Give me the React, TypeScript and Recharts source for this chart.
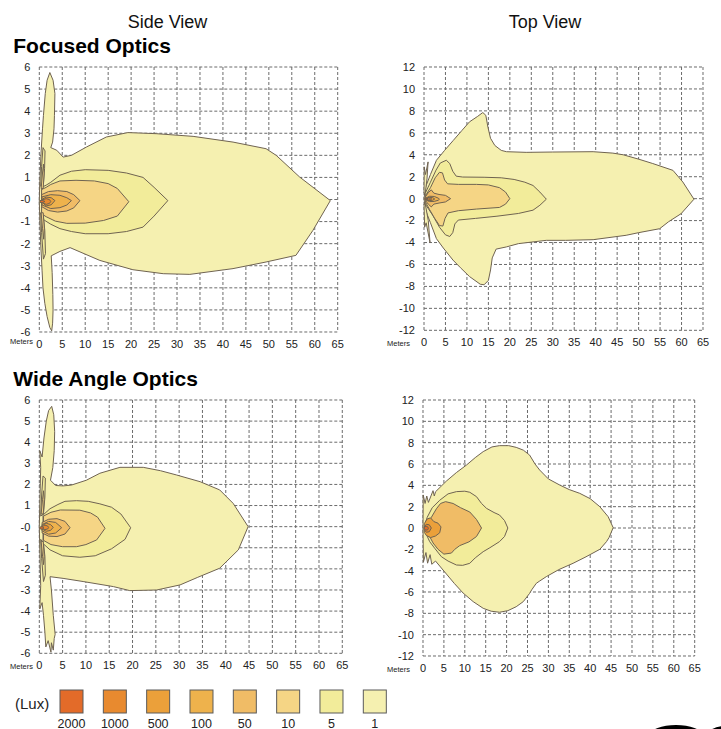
import { ScatterChart, Scatter, XAxis, YAxis, CartesianGrid } from 'recharts';

type Pt = [number, number];
type Layer = { lux: string; pts: Pt[] };

const FONT = '"Liberation Sans", Arial, sans-serif';

const meterTicks = [0, 5, 10, 15, 20, 25, 30, 35, 40, 45, 50, 55, 60, 65];
const sideTicks = [6, 5, 4, 3, 2, 1, 0, -1, -2, -3, -4, -5, -6];
const topTicks = [12, 10, 8, 6, 4, 2, 0, -2, -4, -6, -8, -10, -12];

const luxLevels = ['2000', '1000', '500', '100', '50', '10', '5', '1'];
const luxColors: Record<string, string> = {
  '2000': '#E36B29',
  '1000': '#E88A2F',
  '500': '#EBA03A',
  '100': '#EEB24C',
  '50': '#F0BC66',
  '10': '#F5D585',
  '5': '#F2EC9A',
  '1': '#F5F0B0',
};

// ---- Focused optics, side view (meters x, meters height)
const focusedSide1: Pt[] = [
  [2.3, 5.75], [3.0, 5.4], [3.4, 4.8], [3.3, 3.8], [3.2, 3.2], [2.9, 2.6], [2.5, 2.35],
  [3.8, 2.23], [5.2, 1.92], [7.0, 2.0], [10.3, 2.38], [14.6, 2.83], [19.3, 3.03], [25.5, 2.98],
  [33.5, 2.86], [42.2, 2.6], [49.4, 2.3], [51.6, 2.0], [56.7, 1.02], [63.4, -0.05], [59.6, -1.4],
  [55.9, -2.53], [49.4, -2.83], [42.2, -3.13], [32.8, -3.39], [27, -3.36], [20.4, -3.18],
  [13.2, -2.76], [6.7, -2.18], [4.5, -2.35], [2.6, -2.55], [2.8, -3.3], [2.95, -4.3], [3.0, -5.0],
  [2.9, -5.6], [2.7, -5.95], [2.3, -5.8], [1.7, -5.3], [1.2, -4.7], [0.8, -4.0], [0.6, -3.2],
  [0.35, -2.2], [0.1, -0.8], [0, -0.1], [0.1, 0.8], [0.4, 2.2], [0.7, 3.2], [0.9, 3.8],
  [1.3, 4.8], [1.7, 5.4],
];
const focusedSide5: Pt[] = [
  [0.5, 0.55], [1.5, 0.65], [2.5, 0.78], [4.5, 1.1], [7, 1.28], [10, 1.35], [15, 1.32], [19, 1.2],
  [22.6, 1.0], [25, 0.55], [28, -0.05], [25, -0.75], [22.6, -1.25], [19, -1.45], [15, -1.55],
  [10, -1.55], [7, -1.45], [4.5, -1.32], [2.5, -1.12], [1.2, -0.95], [0.5, -0.85],
];
const focusedSide5Up: Pt[] = [[0.3, 0.6], [0.5, 1.5], [0.8, 2.35], [1.25, 2.2], [1.15, 1.4], [0.9, 0.7]];
const focusedSide5Down: Pt[] = [[0.3, -0.6], [0.5, -1.5], [0.9, -2.7], [1.35, -2.45], [1.2, -1.4], [0.9, -0.8]];
const focusedSide10: Pt[] = [
  [0.5, 0.45], [1.5, 0.55], [2.5, 0.68], [4.5, 0.84], [8, 0.87], [12, 0.84], [15, 0.72], [17, 0.5],
  [19.5, -0.1], [17, -0.75], [14, -0.95], [10, -1.07], [6, -1.08], [3.5, -0.98], [1.5, -0.78],
  [0.5, -0.65],
];
const focusedSide10Up: Pt[] = [[0.4, 0.5], [0.7, 1.2], [0.9, 1.6], [1.05, 1.2], [0.85, 0.5]];
const focusedSide10Down: Pt[] = [[0.4, -0.6], [0.7, -1.3], [0.95, -1.8], [1.1, -1.3], [0.85, -0.6]];
const focusedSide50: Pt[] = [
  [0.5, 0.22], [2, 0.36], [4, 0.4], [6, 0.36], [7.5, 0.22], [8.85, -0.05], [7.5, -0.38], [6, -0.52],
  [4, -0.57], [2, -0.5], [0.5, -0.32],
];
const focusedSide100: Pt[] = [
  [0.6, 0.12], [2.5, 0.22], [4.5, 0.19], [6, 0.08], [7, -0.05], [6, -0.25], [4.5, -0.37],
  [2.5, -0.41], [0.6, -0.25],
];
const focusedSide500: Pt[] = [[0.7, 0.02], [1.5, 0.11], [2.6, 0.08], [3.4, -0.05], [2.6, -0.24], [1.5, -0.29], [0.7, -0.14]];
const focusedSide1000: Pt[] = [[0.7, -0.02], [1.5, 0.04], [2.2, 0.0], [2.5, -0.09], [2.2, -0.18], [1.5, -0.22], [0.7, -0.15]];
const focusedSide2000: Pt[] = [[0.15, -0.05], [0.7, -0.04], [1.24, -0.09], [0.7, -0.14], [0.15, -0.13]];

// ---- Focused optics, top view (meters x, meters width)
const focusedTop1: Pt[] = [
  [0.3, 1.0], [1.5, 2.2], [2.9, 3.5], [4.8, 4.4], [6.8, 5.3], [8.8, 6.2], [10.6, 7.0], [12.5, 7.5],
  [13.7, 7.85], [14.4, 7.6], [14.9, 6.5], [15.5, 5.5], [16.5, 4.85], [18, 4.4], [19.2, 4.28],
  [23.8, 4.22], [30, 4.25], [39.4, 4.28], [44, 4.15], [46.4, 4.0], [50, 3.6], [53.3, 3.2],
  [58, 2.58], [60.3, 1.52], [62.9, -0.05], [59.9, -1.37], [57, -2.1], [54.9, -2.74], [50, -3.1],
  [47.1, -3.34], [39.4, -3.74], [33, -3.8], [28.5, -3.8], [22, -4.1], [19.2, -4.4], [16.8, -4.6],
  [15.9, -5.4], [15.5, -6.5], [15, -7.45], [14, -7.85], [13.1, -7.8], [10.6, -7.1], [8.5, -6.3],
  [6.75, -5.6], [4.5, -4.5], [2.9, -3.65], [1.5, -2.2], [0.3, -1.0], [0, 0],
];
const focusedTop1Up: Pt[] = [[0, 0.5], [0.05, 2.9], [0.35, 2.2], [0.95, 3.35], [0.7, 1.8], [0.3, 0.5]];
const focusedTop1Down: Pt[] = [[0, -0.5], [0.15, -2.6], [0.5, -2.2], [1.4, -4.0], [1.0, -2.0], [0.3, -0.5]];
const focusedTop5: Pt[] = [
  [0.3, 0.5], [1.5, 1.5], [2.8, 2.6], [3.8, 3.25], [5.2, 3.5], [6.0, 3.2], [6.7, 2.5], [7.5, 2.05],
  [9, 1.97], [14, 1.95], [18, 1.9], [21, 1.75], [23.5, 1.5], [25.4, 1.2], [27, 0.6], [28.5, -0.05],
  [27, -0.6], [25.4, -1.05], [22, -1.35], [17, -1.6], [12, -1.8], [8, -1.95], [7.2, -2.3],
  [6.7, -3.1], [6.0, -3.45], [5.0, -3.3], [3.6, -2.6], [2.0, -1.5], [0.3, -0.5],
];
const focusedTop10: Pt[] = [
  [0.4, 0.3], [1.5, 1.0], [2.6, 1.9], [3.6, 2.4], [4.3, 2.35], [4.8, 1.7], [5.5, 1.35], [8, 1.3],
  [12.2, 1.3], [15, 1.25], [17.6, 1.0], [19, 0.6], [20, 0], [19, -0.5], [17.6, -0.8], [12.2, -0.95],
  [8, -1.1], [5.6, -1.3], [4.9, -1.8], [4.4, -2.5], [3.6, -2.45], [2.5, -1.8], [1.3, -1.0],
  [0.4, -0.35],
];
const focusedTop50: Pt[] = [
  [0.3, 0.15], [1.0, 0.55], [1.7, 0.8], [2.3, 0.5], [3.5, 0.38], [5, 0.3], [6.2, 0], [5, -0.3],
  [3.5, -0.4], [2.3, -0.5], [1.7, -0.75], [1.0, -0.5], [0.3, -0.15],
];
const focusedTop100: Pt[] = [[0.4, 0.05], [1.3, 0.22], [2.4, 0.2], [3.3, 0.05], [3.6, -0.05], [3.3, -0.15], [2.4, -0.25], [1.3, -0.27], [0.4, -0.12]];
const focusedTop500: Pt[] = [[0.5, 0], [1.2, 0.12], [2, 0.1], [2.5, -0.03], [2, -0.15], [1.2, -0.18], [0.5, -0.08]];
const focusedTop1000: Pt[] = [[0.5, -0.02], [1.0, 0.06], [1.6, 0.04], [1.8, -0.03], [1.6, -0.1], [1.0, -0.12], [0.5, -0.06]];
const focusedTop2000: Pt[] = [[0.1, 0], [0.5, 0.05], [0.9, 0], [0.5, -0.06], [0.1, -0.05]];

// ---- Wide angle optics, side view
const wideSide1: Pt[] = [
  [2.0, 5.5], [2.66, 5.7], [3.1, 5.3], [3.3, 4.5], [3.2, 3.6], [2.9, 2.8], [2.4, 2.2], [3.5, 1.95],
  [5.1, 1.93], [6.9, 1.97], [10.1, 2.2], [13, 2.53], [17.3, 2.81], [22.3, 2.81], [26, 2.65],
  [29.4, 2.45], [34.5, 2.13], [38.7, 1.74], [41.6, 1.1], [44.8, 0], [42.7, -1.1], [38.7, -1.97],
  [34, -2.4], [30.2, -2.76], [25.2, -3.0], [19.4, -3.03], [15.9, -2.84], [9.4, -2.6], [5.1, -2.45],
  [2.3, -2.37], [2.6, -3.0], [3.0, -4.2], [3.4, -5.1], [3.2, -5.3], [3.0, -5.85], [2.6, -5.5],
  [2.5, -5.95], [1.9, -5.4], [1.4, -5.7], [1.2, -5.0], [0.9, -4.2], [0.6, -3.6], [0.1, -3.9],
  [0.3, -2.8], [0.1, -1.0], [0, 0], [0.1, 1.0], [0.3, 2.8], [0.1, 3.6], [0.6, 3.3], [1.0, 4.2],
  [1.5, 5.0],
];
const wideSide5: Pt[] = [
  [0.8, 0.55], [2.3, 0.85], [4, 1.05], [5.5, 1.2], [8, 1.23], [10.5, 1.2], [13, 1.08], [15.5, 0.92],
  [17.5, 0.6], [19.6, -0.05], [18.4, -0.6], [15.5, -1.05], [12, -1.38], [8.7, -1.45], [5, -1.38],
  [2.3, -1.1], [0.8, -0.8],
];
const wideSide5Up: Pt[] = [[0.3, 0.5], [0.5, 1.5], [0.8, 2.4], [1.3, 2.3], [1.2, 1.4], [0.9, 0.6]];
const wideSide5Down: Pt[] = [[0.3, -0.6], [0.5, -1.5], [0.9, -2.6], [1.3, -2.3], [1.2, -1.4], [0.9, -0.8]];
const wideSide10: Pt[] = [
  [0.9, 0.5], [2.5, 0.68], [4.5, 0.79], [8.7, 0.78], [11, 0.65], [12.5, 0.45], [14.1, -0.08],
  [12.3, -0.63], [10, -0.85], [8, -0.95], [5, -0.95], [2.5, -0.85], [0.9, -0.65],
];
const wideSide10Up: Pt[] = [[0.4, 0.6], [0.7, 1.3], [0.9, 1.7], [1.05, 1.3], [0.85, 0.6]];
const wideSide10Down: Pt[] = [[0.4, -0.7], [0.7, -1.4], [0.9, -1.8], [1.05, -1.4], [0.85, -0.7]];
const wideSide50: Pt[] = [[0.6, 0.2], [2, 0.35], [3.8, 0.38], [5.5, 0.25], [6.6, -0.05], [5.5, -0.35], [3.8, -0.47], [2, -0.45], [0.6, -0.3]];
const wideSide100: Pt[] = [[0.6, 0.1], [2, 0.25], [3.5, 0.2], [4.8, -0.05], [3.5, -0.3], [2, -0.36], [0.6, -0.2]];
const wideSide500: Pt[] = [[0.6, 0.05], [1.5, 0.16], [2.4, 0.1], [3.0, -0.03], [2.4, -0.18], [1.5, -0.22], [0.6, -0.12]];
const wideSide1000: Pt[] = [[0.6, 0], [1.2, 0.07], [1.8, 0.03], [2.0, -0.04], [1.8, -0.11], [1.2, -0.14], [0.6, -0.08]];
const wideSide2000: Pt[] = [[0.1, -0.02], [0.6, 0.0], [1.0, -0.06], [0.6, -0.12], [0.1, -0.1]];

// ---- Wide angle optics, top view
const wideTop1: Pt[] = [
  [0, 0], [0.05, 3.1], [0.5, 2.3], [0.9, 3.0], [1.3, 2.4], [2.4, 3.5], [2.7, 3.0], [3.0, 3.4],
  [5.6, 4.4], [8, 5.2], [10.4, 5.9], [12.5, 6.6], [14.4, 7.16], [16.5, 7.6], [18.3, 7.72],
  [20.5, 7.72], [22.3, 7.56], [24, 7.3], [25.5, 6.84], [26.8, 6.0], [27.9, 5.44], [30, 4.6],
  [32.7, 4.03], [35, 3.6], [37.5, 3.25], [40, 2.75], [42.3, 2.0], [44.3, 1.06], [45.5, 0.03],
  [44.5, -0.9], [43.9, -1.28], [42.3, -2.0], [39, -2.7], [35.9, -3.31], [32.5, -3.9], [29.5, -4.56],
  [27.8, -5.0], [27.1, -5.19], [26, -5.8], [25.5, -6.13], [24, -6.9], [22.3, -7.38], [20.3, -7.75],
  [18.3, -7.9], [16.3, -7.8], [14.4, -7.53], [12, -6.9], [9.6, -6.1], [7.5, -5.2], [6, -4.5],
  [3.0, -3.1], [2.1, -3.4], [1.7, -2.5], [1.1, -3.3], [0.7, -2.3], [0.1, -3.2],
];
const wideTop5: Pt[] = [
  [1.0, 1.0], [2.2, 1.9], [4, 2.6], [6, 3.2], [8, 3.41], [10, 3.45], [11.2, 3.35], [12.8, 2.94],
  [14, 2.3], [15.2, 1.84], [17, 1.45], [18.3, 1.22], [19.5, 0.7], [20.3, 0], [19.5, -0.8],
  [18.3, -1.28], [16, -1.85], [14.4, -2.22], [12.5, -2.8], [11.2, -3.31], [9.5, -3.5], [8, -3.47],
  [6, -3.1], [4.4, -2.69], [2.8, -1.9], [1.6, -1.28], [0.8, -0.6], [0.6, 0.5],
];
const wideTop50: Pt[] = [
  [1.2, 0.44], [2, 1.0], [3.2, 1.8], [4.2, 2.3], [5.4, 2.47], [7.2, 2.3], [9, 1.9], [11.2, 1.5],
  [12.8, 0.8], [14, 0], [12.8, -0.8], [11, -1.3], [8.8, -1.65], [7.6, -2.0], [6.8, -2.35],
  [5, -2.45], [3.6, -2.0], [2.4, -1.4], [1.2, -0.5],
];
const wideTop500: Pt[] = [
  [0.3, 0.4], [1.0, 0.85], [1.8, 0.95], [2.6, 0.6], [3.6, 0.45], [4.3, 0.1], [4.0, -0.45],
  [3.0, -0.75], [1.8, -0.9], [0.8, -0.7], [0.3, -0.4],
];
const wideTop1000: Pt[] = [[0.3, 0.1], [0.8, 0.35], [1.5, 0.3], [2.0, 0], [1.5, -0.35], [0.8, -0.4], [0.3, -0.15]];
const wideTop2000: Pt[] = [[0.3, 0.05], [0.7, 0.18], [1.1, 0.12], [1.3, -0.02], [1.1, -0.18], [0.7, -0.2], [0.3, -0.08]];

const focusedSideLayers: Layer[] = [
  { lux: '1', pts: focusedSide1 },
  { lux: '5', pts: focusedSide5 },
  { lux: '5', pts: focusedSide5Up },
  { lux: '5', pts: focusedSide5Down },
  { lux: '10', pts: focusedSide10 },
  { lux: '10', pts: focusedSide10Up },
  { lux: '10', pts: focusedSide10Down },
  { lux: '50', pts: focusedSide50 },
  { lux: '100', pts: focusedSide100 },
  { lux: '500', pts: focusedSide500 },
  { lux: '1000', pts: focusedSide1000 },
  { lux: '2000', pts: focusedSide2000 },
];
const focusedTopLayers: Layer[] = [
  { lux: '1', pts: focusedTop1 },
  { lux: '1', pts: focusedTop1Up },
  { lux: '1', pts: focusedTop1Down },
  { lux: '5', pts: focusedTop5 },
  { lux: '10', pts: focusedTop10 },
  { lux: '50', pts: focusedTop50 },
  { lux: '100', pts: focusedTop100 },
  { lux: '500', pts: focusedTop500 },
  { lux: '1000', pts: focusedTop1000 },
  { lux: '2000', pts: focusedTop2000 },
];
const wideSideLayers: Layer[] = [
  { lux: '1', pts: wideSide1 },
  { lux: '5', pts: wideSide5 },
  { lux: '5', pts: wideSide5Up },
  { lux: '5', pts: wideSide5Down },
  { lux: '10', pts: wideSide10 },
  { lux: '10', pts: wideSide10Up },
  { lux: '10', pts: wideSide10Down },
  { lux: '50', pts: wideSide50 },
  { lux: '100', pts: wideSide100 },
  { lux: '500', pts: wideSide500 },
  { lux: '1000', pts: wideSide1000 },
  { lux: '2000', pts: wideSide2000 },
];
const wideTopLayers: Layer[] = [
  { lux: '1', pts: wideTop1 },
  { lux: '5', pts: wideTop5 },
  { lux: '50', pts: wideTop50 },
  { lux: '500', pts: wideTop500 },
  { lux: '1000', pts: wideTop1000 },
  { lux: '2000', pts: wideTop2000 },
];

const noDot = () => <g />;

type PanelProps = {
  layers: Layer[];
  yTicks: number[];
  negZero?: boolean;
  left: number;
  top: number;
  width: number;
  height: number;
  yWidth: number;
};

const Panel = ({ layers, yTicks, negZero, left, top, width, height, yWidth }: PanelProps) => {
  const yMax = yTicks[0];
  return (
    <div style={{ position: 'absolute', left, top }}>
      <ScatterChart width={width} height={height} margin={{ top: 10, right: 12, bottom: 0, left: 0 }}>
        <CartesianGrid stroke="#6a6a6a" strokeDasharray="3 2" strokeWidth={1} />
        <XAxis
          type="number"
          dataKey="x"
          domain={[0, 65]}
          ticks={meterTicks}
          interval={0}
          axisLine={false}
          tickLine={false}
          height={20}
          tick={{ fontSize: 11, fill: '#222', fontFamily: FONT }}
        />
        <YAxis
          type="number"
          dataKey="y"
          domain={[-yMax, yMax]}
          ticks={yTicks}
          interval={0}
          width={yWidth}
          axisLine={false}
          tickLine={false}
          tickMargin={3}
          tick={{ fontSize: 11, fill: '#222', fontFamily: FONT }}
          tickFormatter={(v: number) => (v === 0 && negZero ? '-0' : String(v))}
        />
        {layers.map((layer, i) => (
          <Scatter
            key={i}
            data={layer.pts.map(([x, y]) => ({ x, y }))}
            line={{ fill: luxColors[layer.lux], stroke: '#6e6250', strokeWidth: 1 }}
            lineJointType="linearClosed"
            shape={noDot}
            isAnimationActive={false}
          />
        ))}
      </ScatterChart>
    </div>
  );
};

const App = () => (
  <div style={{ position: 'absolute', left: 0, top: 0, width: 721, height: 729, background: '#fff', overflow: 'hidden' }}>
    <svg width={721} height={729} style={{ position: 'absolute', left: 0, top: 0 }} fontFamily={FONT}>
      <text x={167.5} y={28.3} fontSize={18} textAnchor="middle" fill="#111">Side View</text>
      <text x={545} y={28} fontSize={18} textAnchor="middle" fill="#111">Top View</text>
      <text x={13.3} y={53} fontSize={21} fontWeight="bold" fill="#000">Focused Optics</text>
      <text x={13.3} y={386} fontSize={21} fontWeight="bold" fill="#000">Wide Angle Optics</text>
      <text x={10} y={343.7} fontSize={7.5} fill="#222">Meters</text>
      <text x={387} y={345.5} fontSize={7.5} fill="#222">Meters</text>
      <text x={10} y={669.4} fontSize={7.5} fill="#222">Meters</text>
      <text x={387} y={672} fontSize={7.5} fill="#222">Meters</text>
      <text x={15} y={709} fontSize={15} fill="#222">(Lux)</text>
      {luxLevels.map((lux, i) => (
        <g key={lux}>
          <rect x={60 + i * 43.33} y={690} width={23} height={23} fill={luxColors[lux]} stroke="#5a5a5a" strokeWidth={1} />
          <text x={71.5 + i * 43.33} y={727.5} fontSize={12.5} textAnchor="middle" fill="#222">{lux}</text>
        </g>
      ))}
      <ellipse cx={676} cy={735} rx={26} ry={10} fill="#000" />
      <ellipse cx={726} cy={737} rx={20} ry={11} fill="#000" />
    </svg>
    <Panel layers={focusedSideLayers} yTicks={sideTicks} negZero left={0} top={56.7} width={349.7} height={295} yWidth={39.3} />
    <Panel layers={focusedTopLayers} yTicks={topTicks} left={364.3} top={56.7} width={351} height={293.3} yWidth={60} />
    <Panel layers={wideSideLayers} yTicks={sideTicks} negZero left={0} top={390} width={354.3} height={283.3} yWidth={39.3} />
    <Panel layers={wideTopLayers} yTicks={topTicks} left={363.3} top={390} width={343.7} height={286} yWidth={60} />
  </div>
);

export default App;
